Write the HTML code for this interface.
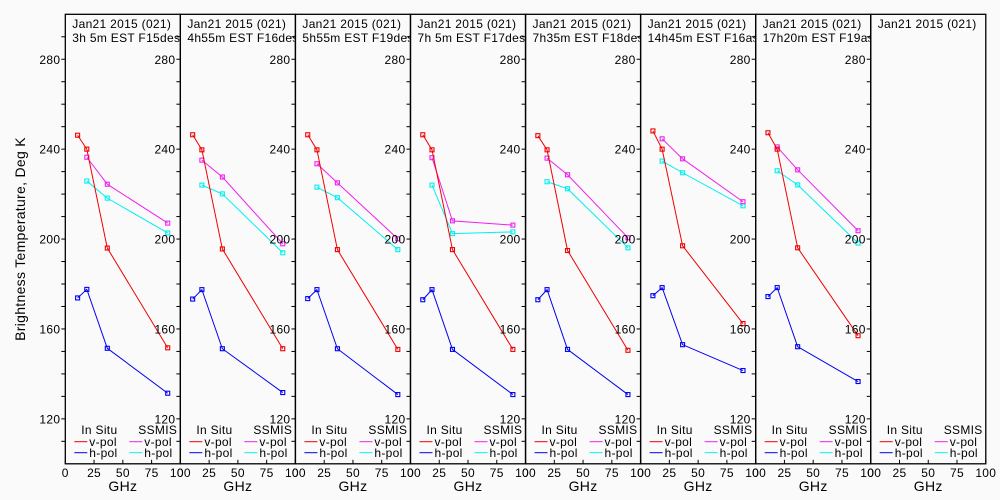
<!DOCTYPE html>
<html><head><meta charset="utf-8"><style>
body{margin:0;background:#fafafa}
svg{display:block;font-family:"Liberation Sans",sans-serif}
text{font-size:12px;fill:#000;letter-spacing:0.3px}
</style></head><body>
<svg id="c" width="1000" height="500" xmlns="http://www.w3.org/2000/svg"></svg>
<script>
const titles1 = ["Jan21 2015 (021)","Jan21 2015 (021)","Jan21 2015 (021)","Jan21 2015 (021)","Jan21 2015 (021)","Jan21 2015 (021)","Jan21 2015 (021)","Jan21 2015 (021)"];
const titles2 = ["3h 5m EST F15des","4h55m EST F16des","5h55m EST F19des","7h 5m EST F17des","7h35m EST F18des","14h45m EST F16asc","17h20m EST F19asc",""];
const insituFreq = [10.7,18.7,36.5,89];
const ssmisFreq = [18.7,36.5,89];
const insituV = [[246.2,240,196,151.6],[246.4,239.7,195.6,151.2],[246.4,239.7,195.3,150.9],[246.4,239.7,195.3,150.9],[246,239.7,194.9,150.5],[248.1,240,197,162.4],[247.3,240,196.1,157],[]];
const insituH = [[173.8,177.6,151.4,131.4],[173.3,177.5,151.2,131.7],[173.5,177.5,151.2,130.8],[173,177.5,150.9,130.8],[173,177.5,150.9,130.8],[174.8,178.4,153,141.5],[174.4,178.4,152.1,136.6],[]];
const ssmisV = [[236.4,224.4,207.1],[235.1,227.6,197.9],[233.5,225,200.1],[236.2,208.1,206.2],[236,228.6,200.6],[244.6,235.7,216.6],[241,230.8,203.7],[]];
const ssmisH = [[225.8,218.2,202.7],[224,220.1,193.9],[223.1,218.4,195.3],[224,202.4,203.2],[225.5,222.4,196.1],[234.7,229.5,214.8],[230.4,224.1,198.2],[]];
const yTicks = [120,160,200,240,280];
const xTicks = [0,25,50,75,100];

const NS="http://www.w3.org/2000/svg";
const svg=document.getElementById('c');
const L0=65.3,PW=115.06,TOP=14.3,BOT=463.8;
const ymin=100,ymax=300;
function Y(v){return BOT-(v-ymin)/(ymax-ymin)*(BOT-TOP);}
function X(p,f){return L0+p*PW+f/100*PW;}
function mk(tag,attrs,parent){const e=document.createElementNS(NS,tag);for(const k in attrs)e.setAttribute(k,attrs[k]);(parent||svg).appendChild(e);return e;}

const yt=mk('text',{x:25,y:239,'text-anchor':'middle',transform:'rotate(-90 25 239)',style:'font-size:14px'});


yt.textContent='Brightness Temperature, Deg K';

for(let p=0;p<8;p++){
  const g=mk('g',{});
  
  
  const x0=X(p,0);
  mk('rect',{x:x0,y:TOP,width:PW,height:BOT-TOP,fill:'none',stroke:'#000','stroke-width':1.3},g);
  for(let v=110;v<=290;v+=10){mk('line',{x1:x0-4,x2:x0,y1:Y(v),y2:Y(v),stroke:'#000'},g);}
  yTicks.forEach(v=>{const t=mk('text',{x:x0-5,y:Y(v)+4.5,'text-anchor':'end'},g);t.textContent=v;});
  xTicks.forEach(v=>{mk('line',{x1:X(p,v),x2:X(p,v),y1:BOT,y2:BOT-4,stroke:'#000'},g);
    const t=mk('text',{x:X(p,v),y:BOT+13,'text-anchor':'middle'},g);t.textContent=v;});
  const xl=mk('text',{x:x0+PW/2,y:491,'text-anchor':'middle',style:'font-size:14px'},g);
  
  
  xl.textContent='GHz';
  const t1=mk('text',{x:x0+7,y:28},g);
  
  
  t1.textContent=titles1[p];
  const t2=mk('text',{x:x0+7,y:42},g);
  
  
  t2.textContent=titles2[p];
  const cid='cl'+p;
  const cp=mk('clipPath',{id:cid},g);mk('rect',{x:x0,y:TOP,width:PW-1,height:40},cp);
  t1.setAttribute('clip-path','url(#'+cid+')');t2.setAttribute('clip-path','url(#'+cid+')');
  function series(freqs,vals,col,w,name){
    if(!vals.length)return;
    const pts=vals.map((v,i)=>X(p,freqs[i])+','+Y(v)).join(' ');
    const pl=mk('polyline',{points:pts,fill:'none',stroke:col,'stroke-width':w},g);
    
    
    vals.forEach((v,i)=>{const r=mk('rect',{x:X(p,freqs[i])-2,y:Y(v)-2,width:4,height:4,fill:'none',stroke:col,'stroke-width':1.1},g);
      
      });
  }
  series(ssmisFreq,ssmisH[p],'#00f0f0',1,'ssmis-h-pol');
  series(ssmisFreq,ssmisV[p],'#f020f0',1,'ssmis-v-pol');
  series(insituFreq,insituH[p],'#0000f0',1,'insitu-h-pol');
  series(insituFreq,insituV[p],'#f00000',1,'insitu-v-pol');
  const lg=mk('g',{},g);
  
  
  const a=mk('text',{x:x0+16,y:434},lg);a.textContent='In Situ';
  const b=mk('text',{x:x0+73,y:434},lg);b.textContent='SSMIS';
  [['v-pol','#f00000','#f020f0',441.7],['h-pol','#0000f0','#00f0f0',452.7]].forEach(r=>{
    mk('line',{x1:x0+9,x2:x0+22,y1:r[3],y2:r[3],stroke:r[1]},lg);
    const t=mk('text',{x:x0+24,y:r[3]+4.5},lg);t.textContent=r[0];
    mk('line',{x1:x0+64,x2:x0+77,y1:r[3],y2:r[3],stroke:r[2]},lg);
    const t2=mk('text',{x:x0+79,y:r[3]+4.5},lg);t2.textContent=r[0];
  });
}
</script>
</body></html>
